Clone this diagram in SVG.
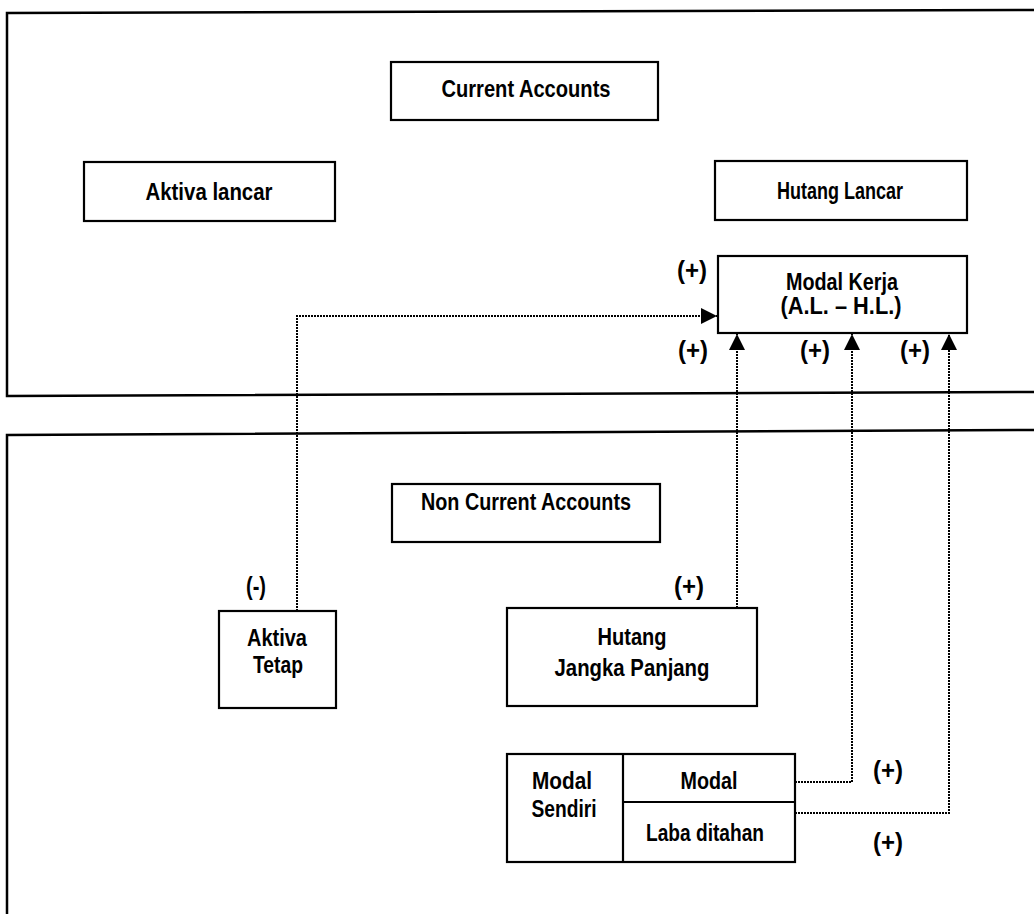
<svg xmlns="http://www.w3.org/2000/svg" width="1034" height="914" viewBox="0 0 1034 914">
<defs>
<style>
.panel{fill:none;stroke:#000;stroke-width:2.5}
.box{fill:#fff;stroke:#000;stroke-width:2.2}
.t{font-family:"Liberation Sans",Arial,sans-serif;font-weight:bold;font-size:23px;fill:#000;text-anchor:middle}
.lab{font-family:"Liberation Sans",Arial,sans-serif;font-weight:bold;font-size:25px;fill:#000;text-anchor:middle}
.conn{fill:none;stroke:#000;stroke-width:2;stroke-dasharray:2,1}
</style>
<marker id="arr" viewBox="0 0 10 10" refX="10" refY="5" markerWidth="8" markerHeight="8" markerUnits="strokeWidth" orient="auto">
<path d="M0,0 L10,5 L0,10 Z" fill="#000"/>
</marker>
</defs>
<rect width="1034" height="914" fill="#fff"/>
<g id="panel-current">
<path class="panel" d="M1036,10 L7,13 L7,396 L1036,392"/>
</g>
<g id="panel-noncurrent">
<path class="panel" d="M1036,430 L7,435 L7,916"/>
</g>
<g id="connectors">
<path class="conn" d="M297,611 L297,316 L717,316" marker-end="url(#arr)"/>
<path class="conn" d="M737,608 L737,334" marker-end="url(#arr)"/>
<path class="conn" d="M795,782 L852,782 L852,334" marker-end="url(#arr)"/>
<path class="conn" d="M795,813 L949,813 L949,334" marker-end="url(#arr)"/>
</g>
<g id="current-accounts">
<rect class="box" x="391" y="62" width="267" height="58"/>
<text class="t" x="526" y="97" textLength="169" lengthAdjust="spacingAndGlyphs">Current Accounts</text>
</g>
<g id="aktiva-lancar">
<rect class="box" x="84" y="162" width="251" height="59"/>
<text class="t" x="209" y="200" textLength="127" lengthAdjust="spacingAndGlyphs">Aktiva lancar</text>
</g>
<g id="hutang-lancar">
<rect class="box" x="715" y="161" width="252" height="59"/>
<text class="t" x="840" y="199" textLength="126" lengthAdjust="spacingAndGlyphs">Hutang Lancar</text>
</g>
<g id="modal-kerja">
<rect class="box" x="718" y="256" width="249" height="77"/>
<text class="t" x="842" y="290" textLength="112" lengthAdjust="spacingAndGlyphs">Modal Kerja</text>
<text class="t" x="841" y="314" textLength="121" lengthAdjust="spacingAndGlyphs">(A.L. – H.L.)</text>
</g>
<g id="non-current-accounts">
<rect class="box" x="392" y="484" width="268" height="58"/>
<text class="t" x="526" y="510" textLength="210" lengthAdjust="spacingAndGlyphs">Non Current Accounts</text>
</g>
<g id="aktiva-tetap">
<rect class="box" x="219" y="611" width="117" height="97"/>
<text class="t" x="277" y="646" textLength="60" lengthAdjust="spacingAndGlyphs">Aktiva</text>
<text class="t" x="278" y="673" textLength="50" lengthAdjust="spacingAndGlyphs">Tetap</text>
</g>
<g id="hutang-jangka-panjang">
<rect class="box" x="507" y="608" width="250" height="98"/>
<text class="t" x="632" y="645" textLength="69" lengthAdjust="spacingAndGlyphs">Hutang</text>
<text class="t" x="632" y="676" textLength="155" lengthAdjust="spacingAndGlyphs">Jangka Panjang</text>
</g>
<g id="modal-sendiri">
<rect class="box" x="507" y="754" width="288" height="108"/>
<line x1="623" y1="754" x2="623" y2="862" stroke="#000" stroke-width="2.2"/>
<line x1="623" y1="802" x2="795" y2="802" stroke="#000" stroke-width="2.2"/>
<text class="t" x="562" y="789" textLength="60" lengthAdjust="spacingAndGlyphs">Modal</text>
<text class="t" x="564" y="817" textLength="65" lengthAdjust="spacingAndGlyphs">Sendiri</text>
<text class="t" x="709" y="789" textLength="57" lengthAdjust="spacingAndGlyphs">Modal</text>
<text class="t" x="705" y="841" textLength="118" lengthAdjust="spacingAndGlyphs">Laba ditahan</text>
</g>
<g id="signs">
<text class="lab" x="692" y="279" textLength="30" lengthAdjust="spacingAndGlyphs">(+)</text>
<text class="lab" x="693" y="359" textLength="30" lengthAdjust="spacingAndGlyphs">(+)</text>
<text class="lab" x="815" y="359" textLength="30" lengthAdjust="spacingAndGlyphs">(+)</text>
<text class="lab" x="915" y="359" textLength="30" lengthAdjust="spacingAndGlyphs">(+)</text>
<text class="lab" x="256" y="595" textLength="20" lengthAdjust="spacingAndGlyphs">(-)</text>
<text class="lab" x="689" y="595" textLength="30" lengthAdjust="spacingAndGlyphs">(+)</text>
<text class="lab" x="888" y="779" textLength="30" lengthAdjust="spacingAndGlyphs">(+)</text>
<text class="lab" x="888" y="851" textLength="30" lengthAdjust="spacingAndGlyphs">(+)</text>
</g>
</svg>
